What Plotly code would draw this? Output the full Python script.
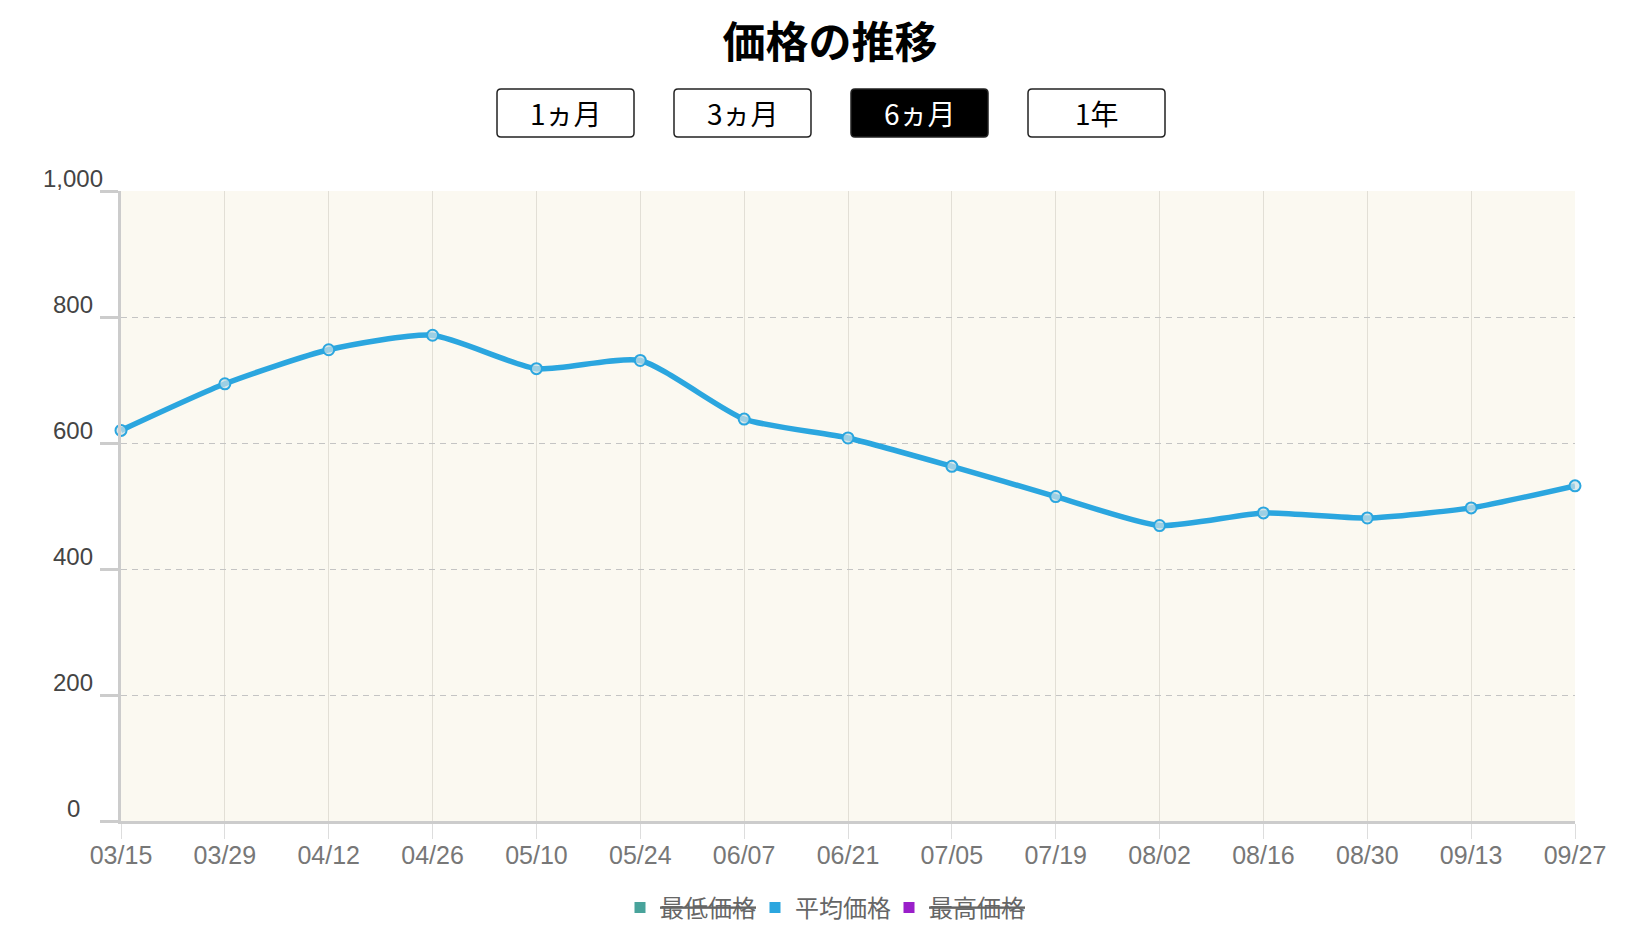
import plotly.graph_objects as go

dates = ['03/15', '03/29', '04/12', '04/26', '05/10', '05/24', '06/07', '06/21',
         '07/05', '07/19', '08/02', '08/16', '08/30', '09/13', '09/27']
avg_price = [620, 694, 748, 771, 718, 731, 638, 608, 563, 515, 469, 489, 481, 497, 532]

y_ticks = [0, 200, 400, 600, 800, 1000]
y_tick_labels = ['0', '200', '400', '600', '800', '1,000']

series_names = ['最低価格', '平均価格', '最高価格']
series_colors = ['#48a39b', '#2ba6df', '#9a1fca']
series_hidden = [True, False, True]

periods = ['1ヵ月', '3ヵ月', '6ヵ月', '1年']
active_period = '6ヵ月'

# page geometry (pixels in the browser window)
W, H = 1627, 943
OFF = 8  # default body margin of the page
FW, FH = W - 2 * OFF, H - 2 * OFF
L, R, T, B = 121, 1575, 191, 821
JP_FONT = 'Noto Sans CJK JP'


# pixel -> paper coordinates
def px(x):
    return (x - L) / (R - L)


def py(y):
    return (B - y) / (B - T)


def rounded_rect(x0, y0, x1, y1, r):
    # svg path in paper units, corners rounded with quadratic curves
    pts = [
        ('M', x0 + r, y0), ('L', x1 - r, y0), ('Q', x1, y0, x1, y0 + r),
        ('L', x1, y1 - r), ('Q', x1, y1, x1 - r, y1), ('L', x0 + r, y1),
        ('Q', x0, y1, x0, y1 - r), ('L', x0, y0 + r), ('Q', x0, y0, x0 + r, y0),
    ]
    out = ''
    for p in pts:
        cmd, coords = p[0], p[1:]
        pairs = [f'{px(coords[i]):.5f},{py(coords[i + 1]):.5f}' for i in range(0, len(coords), 2)]
        out += cmd + ' '.join(pairs) + ' '
    return out + 'Z'


fig = go.Figure()

fig.add_trace(go.Scatter(
    x=dates, y=avg_price, mode='lines+markers', name='平均価格',
    line=dict(color=series_colors[1], width=5.5, shape='spline', smoothing=0.6),
    marker=dict(size=11, color='rgba(205,225,230,0.7)',
                line=dict(color=series_colors[1], width=2)),
    showlegend=False, cliponaxis=False))

# one legend per series so the hidden ones can be struck through;
# placed in container coords so they do not squeeze the plot area
legend_names = ['legend', 'legend2', 'legend3']
legend_left = [620, 755, 889]
legend_layout = {}
for name, color, hidden, lg, lx in zip(series_names, series_colors, series_hidden,
                                        legend_names, legend_left):
    fig.add_trace(go.Scatter(
        x=[None], y=[None], mode='markers', name=name, legend=lg,
        marker=dict(symbol='square', size=11, color=color)))
    legend_layout[lg] = dict(
        orientation='h', xref='container', yref='container',
        x=(lx - OFF) / FW, xanchor='left',
        y=1 - (908 - OFF) / FH, yanchor='middle',
        bgcolor='rgba(0,0,0,0)', itemclick=False, itemdoubleclick=False,
        font=dict(family=JP_FONT, size=24, color='#666',
                  lineposition='through' if hidden else 'none'))

# y tick labels, centred left of the axis and raised above the tick
for val, text in zip(y_ticks, y_tick_labels):
    fig.add_annotation(x=0, xref='paper', y=val, yref='y', text=text,
                       showarrow=False, xanchor='center', xshift=-48, yshift=13,
                       font=dict(family='Liberation Sans', size=24, color='#444'))

# period buttons
for i, p in enumerate(periods):
    x0 = 497 + i * 177
    x1 = x0 + 137
    active = p == active_period
    fig.add_shape(type='path', xref='paper', yref='paper',
                  path=rounded_rect(x0, 89, x1, 137, 4),
                  line=dict(color='#222', width=1.5),
                  fillcolor='black' if active else 'white')
    fig.add_annotation(xref='paper', yref='paper', x=px((x0 + x1) / 2), y=py(113),
                       text=p, showarrow=False, xanchor='center', yanchor='middle',
                       font=dict(family=JP_FONT, size=28,
                                 color='white' if active else 'black'))

fig.update_layout(
    width=FW, height=FH,
    margin=dict(l=L - OFF, r=W - OFF - R, t=T - OFF, b=H - OFF - B),
    paper_bgcolor='white',
    plot_bgcolor='#fbf9f1',
    title=dict(text='<b>価格の推移</b>', xref='container', yref='container',
               x=(830 - OFF) / FW, y=1 - (43 - OFF) / FH,
               xanchor='center', yanchor='middle',
               font=dict(family=JP_FONT, size=43, color='black')),
    xaxis=dict(type='category', range=[0, len(dates) - 1],
               showgrid=True, gridcolor='#e2dfd6', gridwidth=1,
               showline=True, linecolor='#cccccc', linewidth=3,
               ticks='outside', ticklen=15, tickwidth=1, tickcolor='#dddddd',
               ticklabelstandoff=-5,
               tickfont=dict(family='Liberation Sans', size=25, color='#777')),
    yaxis=dict(range=[0, 1000], tickvals=y_ticks, showticklabels=False,
               showgrid=True, gridcolor='#c4c4c4', gridwidth=1, griddash='6px,5px',
               zeroline=False,
               showline=True, linecolor='#cccccc', linewidth=3,
               ticks='outside', ticklen=18, tickwidth=3, tickcolor='#cccccc'),
    **legend_layout,
)

fig.write_html('out.html')
